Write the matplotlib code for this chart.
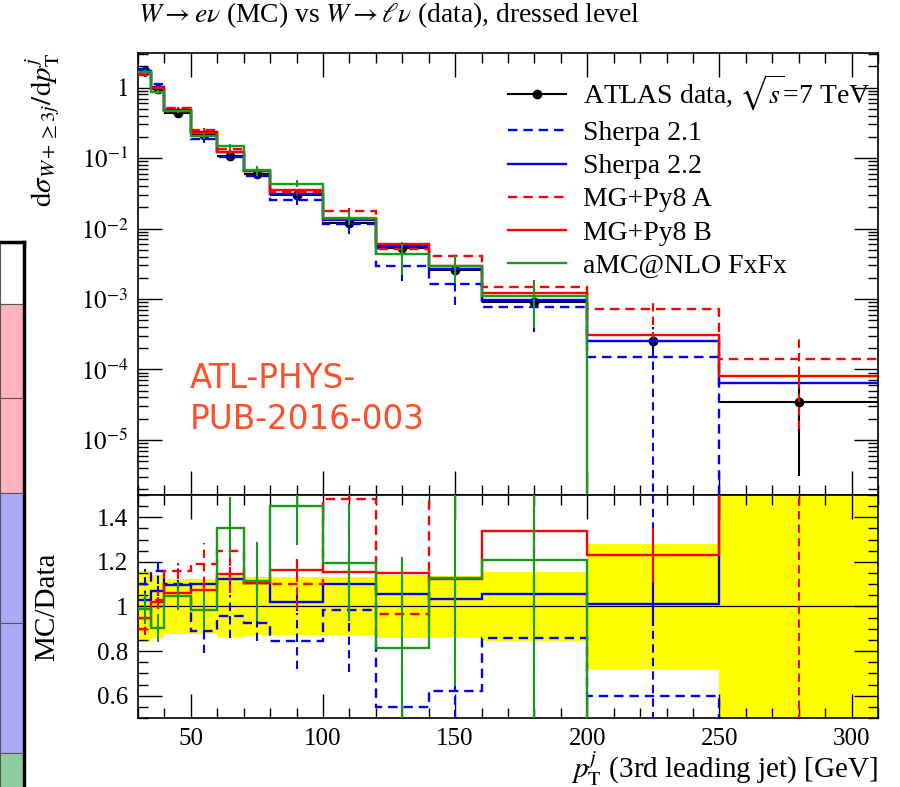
import matplotlib.pyplot as plt
import numpy as np
from matplotlib.lines import Line2D
from matplotlib.patches import Rectangle
from matplotlib.ticker import FixedLocator, MultipleLocator, LogLocator, NullFormatter, FuncFormatter

plt.rcParams['font.family'] = 'Liberation Serif'
plt.rcParams['mathtext.fontset'] = 'stix'

# bin edges of the 3rd jet pT [GeV]
edges = [30, 35, 40, 50, 60, 70, 80, 100, 120, 140, 160, 200, 250, 310]

# measured cross section and relative uncertainty
data = [1.70, 0.97, 0.44, 0.21, 0.108, 0.060, 0.030, 0.0119, 0.0053, 0.0026, 0.00091, 0.000254, 0.000034]
data_rel = [0.16, 0.14, 0.125, 0.125, 0.135, 0.13, 0.13, 0.13, 0.14, 0.135, 0.155, 0.28, 0.91]

# MC / data per bin (0 = empty bin)
r_sherpa21 = [1.10, 1.16, 1.10, 0.89, 0.955, 0.928, 0.844, 0.983, 0.547, 0.619, 0.860, 0.600, 0.0]
r_sherpa22 = [1.03, 1.07, 1.095, 1.10, 1.125, 1.107, 1.021, 1.102, 1.057, 1.033, 1.057, 1.012, 1.90]
r_mg_a = [0.90, 1.03, 1.16, 1.19, 1.25, 1.107, 1.099, 1.482, 0.967, 1.58, 1.65, 2.80, 4.20]
r_mg_b = [0.95, 1.02, 1.059, 1.074, 1.144, 1.107, 1.165, 1.156, 1.152, 1.124, 1.339, 1.23, 2.40]
r_amc = [0.99, 0.904, 1.047, 0.982, 1.354, 1.112, 1.452, 1.197, 0.814, 1.129, 1.209, 0.0, 0.0]

# MC statistical uncertainty, relative
e_sherpa21 = [0.06, 0.05, 0.08, 0.11, 0.10, 0.09, 0.15, 0.28, 0.38, 0.49, 0.56, 1.60, 0.0]
e_sherpa22 = [0.02, 0.02, 0.02, 0.02, 0.03, 0.03, 0.04, 0.05, 0.06, 0.07, 0.08, 0.10, 0.15]
e_mg_a = [0.03, 0.04, 0.03, 0.08, 0.15, 0.06, 0.10, 0.12, 0.15, 0.20, 0.25, 0.40, 0.90]
e_mg_b = [0.02, 0.02, 0.02, 0.03, 0.03, 0.04, 0.04, 0.05, 0.05, 0.07, 0.08, 0.10, 0.20]
e_amc = [0.07, 0.07, 0.06, 0.09, 0.10, 0.16, 0.12, 0.22, 0.50, 0.43, 0.65, 0.0, 0.0]

labels = ['Sherpa 2.1', 'Sherpa 2.2', 'MG+Py8 A', 'MG+Py8 B', 'aMC@NLO FxFx']
colors = ['#0000ff', '#0000ff', '#ff0000', '#ff0000', '#1a9a1a']
styles = [(0, (4, 2.5)), '-', (0, (4, 2.5)), '-', '-']
ratios = [r_sherpa21, r_sherpa22, r_mg_a, r_mg_b, r_amc]
errors = [e_sherpa21, e_sherpa22, e_mg_a, e_mg_b, e_amc]

edges = np.array(edges, dtype=float)
centers = 0.5 * (edges[1:] + edges[:-1])
halfw = 0.5 * (edges[1:] - edges[:-1])
data = np.array(data)
data_rel = np.array(data_rel)

fig = plt.figure(figsize=(9, 7.87), dpi=100)
ax = fig.add_axes([0.1533, 0.371, 0.8222, 0.5616])
axr = fig.add_axes([0.1533, 0.0877, 0.8222, 0.2834], sharex=ax)

# cut-off table on the left edge
H = 787.0
cells = [(243, 304, 'white'), (304, 398, '#ffb3bd'), (398, 493, '#ffb3bd'),
         (493, 623, '#aaaaf6'), (623, 753, '#aaaaf6'), (753, 790, '#8fcc9c')]
for top, bot, c in cells:
    fig.patches.append(Rectangle((0, 1 - bot / H), 24 / 900, (bot - top) / H,
                                 transform=fig.transFigure, facecolor=c,
                                 edgecolor='#555555', lw=0.8))
fig.add_artist(Line2D([24 / 900, 24 / 900], [0, 1 - 242 / H], color='k', lw=2.5,
                      transform=fig.transFigure))
fig.add_artist(Line2D([0, 24 / 900], [1 - 242 / H, 1 - 242 / H], color='k', lw=2.5,
                      transform=fig.transFigure))

# --- main panel ---
ax.errorbar(centers, data, xerr=halfw, yerr=data * data_rel, fmt='o', color='k',
            ms=6, lw=1.5, capsize=0, zorder=2)
for r, e, c, s in zip(ratios, errors, colors, styles):
    r = np.array(r)
    mc = r * data
    ax.stairs(mc, edges, baseline=None, color=c, ls=s, lw=1.7, zorder=3)
    ok = mc > 0
    err = mc * np.array(e)
    lo = np.clip(mc - err, 1e-9, None)
    ax.vlines(centers[ok], lo[ok], (mc + err)[ok], colors=c, linestyles=s, lw=1.5, zorder=3)

ax.set_yscale('log')
ax.set_xlim(30, 310)
ax.set_ylim(1.65e-6, 3.1)

ax.yaxis.set_major_locator(FixedLocator([1e-5, 1e-4, 1e-3, 1e-2, 1e-1, 1]))
ax.yaxis.set_minor_locator(LogLocator(base=10, subs=np.arange(2, 10)))
ax.yaxis.set_minor_formatter(NullFormatter())


def logfmt(v, pos):
    k = int(round(np.log10(v)))
    if k == 0:
        return r'$1\ \ \ \ $'
    return r'$10^{%d}$' % k


ax.yaxis.set_major_formatter(FuncFormatter(logfmt))
ax.tick_params(labelbottom=False)

handles = [Line2D([], [], color='k', marker='o', ms=6, lw=1.5)]
for c, s in zip(colors, styles):
    handles.append(Line2D([], [], color=c, ls=s, lw=1.7))
ax.legend(handles, [r'ATLAS data, $\sqrt{s}$=7 TeV'] + labels, loc='upper right',
          bbox_to_anchor=(0.993, 0.962), frameon=False, fontsize=20, handlelength=2.1,
          handletextpad=0.58, labelspacing=0.28, borderaxespad=0, borderpad=0.1)

ax.text(0.07, 0.30, 'ATL-PHYS-\nPUB-2016-003', transform=ax.transAxes, ha='left',
        va='top', fontsize=23.5, color='#ff4f2a', family='DejaVu Sans', linespacing=1.3)

ax.set_ylabel(r'$\mathrm{d}\sigma_{W+\geq 3j}/\mathrm{d}p_{\mathrm{T}}^{j}$', fontsize=21,
              loc='top')
ax.yaxis.set_label_coords(-0.102, 1.0)

# --- ratio panel ---
axr.bar(centers, 2 * data_rel, bottom=1 - data_rel, width=2 * halfw, color='#ffff00',
        lw=0, zorder=1)
axr.axhline(1, color='k', lw=0.9, zorder=2)
for r, e, c, s in zip(ratios, errors, colors, styles):
    r = np.array(r)
    axr.stairs(r, edges, baseline=None, color=c, ls=s, lw=1.7, zorder=3)
    ok = r > 0
    err = r * np.array(e)
    axr.vlines(centers[ok], (r - err)[ok], (r + err)[ok], colors=c, linestyles=s,
               lw=1.5, zorder=3)

axr.set_ylim(0.5, 1.5)
axr.yaxis.set_major_locator(FixedLocator([0.6, 0.8, 1.0, 1.2, 1.4]))
axr.yaxis.set_major_formatter(FuncFormatter(lambda v, p: '1' if abs(v - 1) < 1e-6 else '%.1f' % v))
axr.yaxis.set_minor_locator(MultipleLocator(0.05))
axr.xaxis.set_major_locator(MultipleLocator(50))
axr.xaxis.set_minor_locator(MultipleLocator(10))
axr.set_ylabel('MC/Data', fontsize=21)
axr.yaxis.set_label_coords(-0.105, 0.5)
axr.set_xlabel(r'$p_{\mathrm{T}}^{j}$ (3rd leading jet) [GeV]', fontsize=21, loc='right',
               labelpad=0)

for a in (ax, axr):
    a.tick_params(which='both', direction='in', top=True, right=True, width=1,
                  labelsize=18, pad=7)
    a.tick_params(which='major', length=17)
    a.tick_params(which='minor', length=7)
    for sp in a.spines.values():
        sp.set_linewidth(1.2)

fig.text(0.1533, 0.981, r'$W \rightarrow e\nu$ (MC) vs $W \rightarrow \ell\nu$ (data), dressed level',
         ha='left', va='center', fontsize=19.8)

fig.savefig('out.png', dpi=100)
